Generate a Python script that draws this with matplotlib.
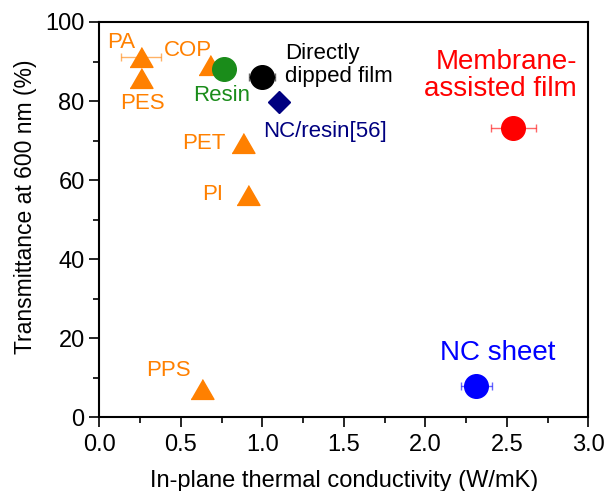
import matplotlib.pyplot as plt
from matplotlib.ticker import MultipleLocator

plt.rcParams['font.family'] = ['Liberation Sans', 'DejaVu Sans']

# polymer films (orange triangles)
poly_names = ['PA', 'PES', 'COP', 'PET', 'PI', 'PPS']
poly_k = [0.256, 0.256, 0.68, 0.88, 0.91, 0.632]
poly_t = [91.2, 85.8, 89.1, 69.3, 56.3, 7.1]
poly_kerr = [0.12, 0.0, 0.0, 0.0, 0.0, 0.0]

# other samples
other_names = ['Resin', 'Directly\ndipped film', 'NC/resin[56]', 'Membrane-\nassisted film', 'NC sheet']
other_k = [0.763, 0.998, 1.104, 2.54, 2.313]
other_t = [88.0, 86.0, 79.8, 73.1, 8.0]
other_kerr = [0.06, 0.08, 0.0, 0.14, 0.095]

orange = '#ff8000'
fig, ax = plt.subplots(figsize=(6.07, 4.91), dpi=100)
fig.subplots_adjust(left=0.1636, right=0.9692, bottom=0.1497, top=0.9552)

tri = [(-1, -0.866), (1, -0.866), (0, 0.866)]
for k, t, e in zip(poly_k, poly_t, poly_kerr):
    if e > 0:
        ax.errorbar(k, t, xerr=e, fmt='none', ecolor=orange, alpha=0.6, elinewidth=1, capsize=3, zorder=2)
    ax.plot(k, t, marker=tri, ms=16.5, color=orange, ls='none', zorder=3)

other_colors = ['#1a8c1a', 'black', '#000080', '#ff0000', '#0000ff']
other_markers = ['o', 'o', 'D', 'o', 'o']
other_ms = [17, 17, 11.7, 17, 17]
for k, t, e, c, m, s in zip(other_k, other_t, other_kerr, other_colors, other_markers, other_ms):
    ax.plot(k, t, marker=m, ms=s, color=c, ls='none', zorder=4)
    if e > 0:
        ax.errorbar(k, t, xerr=e, fmt='none', ecolor=c, alpha=0.6, elinewidth=1, capsize=3, zorder=5)

# labels
poly_lab_pos = [(0.133, 94.7), (0.262, 79.3), (0.544, 92.9), (0.642, 69.2), (0.698, 56.3), (0.422, 12.0)]
for name, (x, y) in zip(poly_names, poly_lab_pos):
    ax.text(x, y, name, color=orange, fontsize=16, ha='center', va='center')

ax.text(0.753, 81.3, other_names[0], color=other_colors[0], fontsize=16, ha='center', va='center')
ax.text(1.139, 89.1, other_names[1], color='black', fontsize=16, ha='left', va='center', linespacing=1.1)
ax.text(1.385, 72.4, other_names[2], color=other_colors[2], fontsize=16, ha='center', va='center')
ax.text(2.931, 86.5, other_names[3], color=other_colors[3], fontsize=20, ha='right', va='center',
        multialignment='right', linespacing=1.05)
ax.text(2.446, 16.3, other_names[4], color=other_colors[4], fontsize=20, ha='center', va='center')

ax.set_xlim(0, 3.0)
ax.set_ylim(0, 100)
ax.xaxis.set_major_locator(MultipleLocator(0.5))
ax.xaxis.set_minor_locator(MultipleLocator(0.25))
ax.yaxis.set_major_locator(MultipleLocator(20))
ax.yaxis.set_minor_locator(MultipleLocator(10))
ax.tick_params(which='major', direction='out', length=7, width=1.2, labelsize=17)
ax.tick_params(axis='x', which='major', pad=5)
ax.tick_params(which='minor', direction='out', length=4, width=1.2)
for sp in ax.spines.values():
    sp.set_linewidth(1.5)
ax.set_xlabel('In-plane thermal conductivity (W/mK)', fontsize=17, labelpad=10)
ax.set_ylabel('Transmittance at 600 nm (%)', fontsize=16.5)
ax.yaxis.set_label_coords(-0.127, 0.532)

fig.savefig('out.png', dpi=100)
